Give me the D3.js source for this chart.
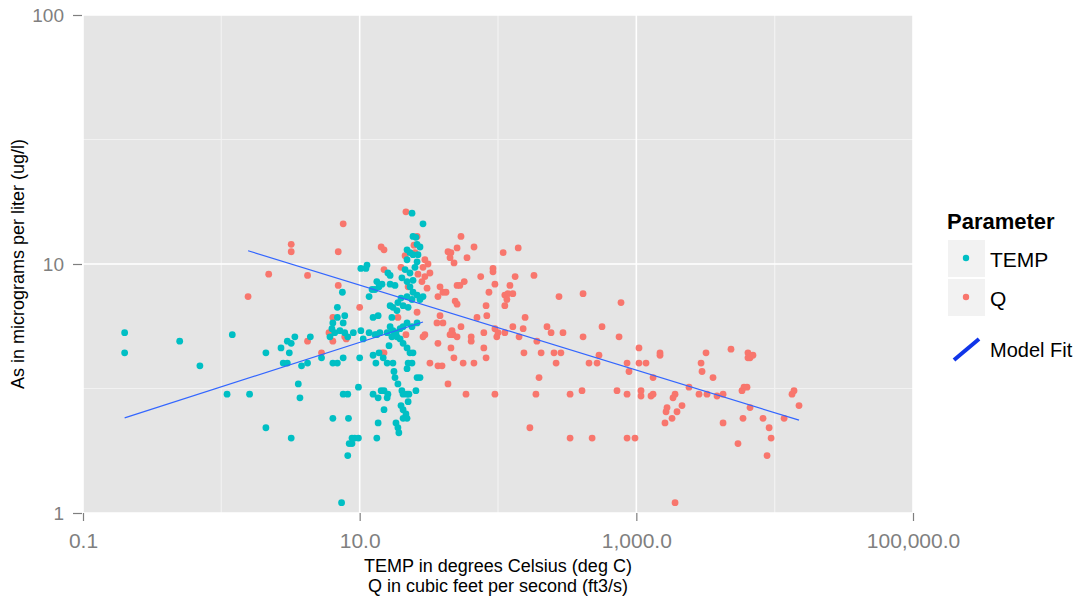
<!DOCTYPE html>
<html>
<head>
<meta charset="utf-8">
<script src="https://cdnjs.cloudflare.com/ajax/libs/d3/7.8.5/d3.min.js"></script>
<style>
body { margin: 0; background: #fff; }
svg { display: block; font-family: Arial, "Liberation Sans", sans-serif; }
</style>
</head>
<body>
<script>
// TEMP (deg C) vs As (ug/l)
var tempX = [0.2, 0.2, 0.5, 0.7, 1.2, 1.1, 1.6, 2.1, 2.1, 3.2, 2.7, 3.0, 3.2, 3.4, 3.1, 2.8, 3.0, 3.8, 4.2, 4.4,
  3.6, 3.7, 5.3, 6.4, 6.9, 7.6, 10, 9.8, 7.6, 8.2, 6.4, 8.3, 8.8, 9.2, 9.8, 8.8, 8.4, 8.2, 7.4, 12.5,
  13.1, 13.8, 14.8, 15.8, 16.3, 17.4, 17.1, 12.5, 13.6, 14.3, 15.0, 16.0, 15.8, 15.0, 13.6, 13.3, 18.3, 18.9, 19.2, 17.7,
  18.0, 18.9, 20.2, 20.6, 22.0, 22.7, 25.5, 19.9, 20.6, 21.6, 22.4, 20.6, 22.0, 18.6, 19.6, 20.6, 22.0, 23.1, 24.3, 22.4,
  23.9, 22.0, 26.0, 27.3, 11.7, 12.9, 9.0, 10.6, 23.9, 28.7, 24.3, 25.5, 26.0, 27.3, 22.0, 23.1, 24.3, 26.4, 22.0, 26.0,
  25.1, 10.2, 11.3, 11.1, 21.3, 23.1, 20.2, 22.0, 24.3, 16.0, 16.6, 13.3, 14.5, 13.8, 12.9, 12.3, 16.6, 18.0, 11.7, 7.5,
  23.1, 24.3, 26.0, 28.7, 27.3, 23.9, 22.0, 22.4, 20.6, 16.6, 17.4, 18.9, 19.9, 18.6, 6.9, 7.8, 6.9, 6.4, 6.3, 6.6,
  7.2, 7.8, 8.2, 10.2, 12.5, 13.6, 14.0, 13.3, 15.8, 17.1, 16.6, 17.4, 18.3, 19.6, 20.6, 22.0, 23.9, 26.0, 6.1, 7.6];
var tempAs = [5.3, 4.4, 4.9, 3.9, 5.2, 3.0, 3.0, 4.4, 2.2, 2.0, 4.6, 4.9, 4.8, 5.1, 4.4, 4.0, 4.0, 3.9, 4.0, 5.1,
  3.3, 2.9, 4.2, 4.0, 4.0, 4.2, 4.2, 3.2, 3.0, 3.0, 2.4, 2.4, 2.0, 2.0, 2.0, 1.9, 1.9, 1.7, 1.1, 4.3,
  4.0, 4.4, 4.2, 4.0, 4.7, 4.0, 5.1, 3.0, 2.9, 3.1, 3.1, 3.0, 2.9, 2.6, 2.3, 2.0, 2.3, 2.2, 2.1, 3.7,
  3.5, 3.3, 3.1, 3.0, 3.0, 3.0, 3.1, 2.7, 2.6, 2.5, 2.8, 2.4, 2.4, 5.1, 5.0, 4.8, 4.6, 4.4, 4.4, 4.0,
  4.0, 3.8, 3.5, 3.5, 5.3, 5.2, 5.3, 5.0, 16.0, 14.5, 12.9, 12.8, 12.0, 11.7, 11.4, 11.1, 10.9, 10.9, 10.4, 10.2,
  9.7, 9.6, 9.9, 9.6, 9.5, 9.2, 8.8, 8.5, 8.6, 9.2, 9.0, 8.5, 8.3, 8.1, 7.9, 7.9, 8.3, 8.2, 7.4, 7.7,
  8.1, 7.7, 7.5, 7.4, 7.2, 7.2, 7.4, 6.7, 6.8, 6.8, 6.7, 7.0, 7.3, 6.5, 6.7, 6.2, 6.1, 5.8, 5.5, 5.3,
  5.4, 5.3, 5.1, 5.4, 6.1, 6.2, 5.3, 5.2, 5.3, 6.1, 5.6, 5.4, 5.3, 5.5, 5.6, 5.8, 5.6, 5.8, 5.1, 5.8];

// Q (ft3/s) vs As (ug/l)
var qX = [1.56, 2.2, 3.2, 3.2, 4.2, 4.2, 5.3, 6.0, 6.4, 6.4, 7.8, 8.0, 7.0, 7.6, 7.0, 10, 14.3, 15.0, 15.0, 18.9,
  14.5, 15.0, 21.6, 19.9, 22.4, 26.0, 24.7, 25.1, 21.3, 29.6, 31.2, 28.7, 26.4, 29.6, 32.2, 28.2, 30.7, 26.0, 21.6, 38.1,
  40, 36.8, 42.1, 38.1, 40, 36.2, 43.5, 29.6, 28.7, 36.8, 32.2, 36.8, 39.4, 43.5, 54, 50.6, 45.7, 45, 48.1, 67.1,
  59.7, 109, 140, 92, 92, 75, 57, 50.6, 53, 95, 133, 182, 122, 112, 118, 128, 116, 112, 86, 49,
  50.6, 82, 83, 54, 46.5, 47.3, 50.6, 45, 70.5, 64, 64, 79, 95, 100, 98, 112, 128, 152, 142, 157,
  191, 226, 242, 276, 412, 565, 412, 295, 775, 750, 45.7, 79, 48, 56, 67, 82, 154, 205, 254, 263,
  285, 455, 520, 537, 857, 885, 58.7, 95, 188, 198, 332, 405, 725, 857, 170, 332, 479, 857, 978, 1045,
  1045, 1175, 1483, 1483, 1321, 1081, 1081, 1277, 1321, 1905, 1841, 1667, 1640, 1611, 1812, 1968, 2138, 1905, 3190, 2937,
  2985, 3584, 2404, 2838, 3243, 3831, 4236, 4236, 4833, 6412, 6637, 6966, 6412, 5803, 6000, 6310, 6637, 5903, 5430, 8238,
  9120, 9425, 8810, 11700, 13350, 13800, 15000];
var qAs = [7.4, 9.1, 11.2, 12.0, 9.0, 4.9, 4.4, 5.3, 4.9, 6.1, 5.1, 5.0, 11.2, 14.5, 8.2, 6.7, 11.7, 11.4, 9.5, 6.1,
  4.4, 4.4, 16.2, 9.7, 8.1, 12.9, 11.9, 11.1, 10.8, 10.4, 10.0, 9.7, 9.1, 8.9, 9.2, 8.5, 8.0, 6.4, 5.2, 8.1,
  7.7, 7.4, 7.7, 6.2, 5.8, 5.8, 11.2, 5.2, 5.1, 4.8, 4.0, 3.9, 3.9, 3.3, 12.9, 11.6, 11.1, 10.6, 10.1, 11.7,
  10.6, 11.1, 11.6, 9.6, 9.3, 8.9, 8.5, 8.2, 8.2, 8.3, 8.9, 9.0, 8.2, 7.5, 7.6, 7.6, 7.2, 6.8, 7.7, 7.1,
  6.9, 6.8, 6.2, 5.6, 5.4, 5.2, 5.1, 5.2, 6.1, 5.1, 4.9, 5.3, 5.5, 5.3, 5.1, 5.3, 5.6, 5.5, 5.1, 6.1,
  4.9, 5.6, 5.3, 7.4, 7.6, 5.6, 5.1, 5.3, 7.0, 5.1, 4.6, 4.6, 4.2, 4.0, 4.0, 4.2, 4.4, 4.4, 4.4, 4.0,
  4.4, 4.0, 4.0, 4.3, 4.0, 3.7, 3.0, 3.0, 3.0, 3.5, 3.0, 3.1, 3.1, 3.0, 2.2, 2.0, 2.0, 2.0, 2.0, 4.6,
  4.0, 4.0, 4.4, 4.3, 3.5, 3.1, 2.95, 2.95, 3.0, 3.0, 2.9, 2.65, 2.55, 2.3, 2.4, 2.55, 2.7, 1.1, 4.4, 4.0,
  3.7, 3.5, 3.2, 3.0, 3.0, 2.95, 3.0, 2.3, 4.55, 4.4, 4.2, 4.3, 4.2, 3.1, 3.2, 3.2, 2.65, 2.4, 1.9, 2.4,
  2.2, 2.0, 1.7, 2.4, 3.0, 3.1, 2.7];

// model fit end points (log-log straight lines)
var tempFitX = [0.2, 28.7], tempFitY = [2.41, 5.85];
var qFitX = [1.56, 15000], qFitY = [11.3, 2.36];

var xTicks = [0.1, 10, 1000, 100000];
var xTickLabels = ["0.1", "10.0", "1,000.0", "100,000.0"];
var xMinor = [1, 100, 10000];
var yTicks = [1, 10, 100];
var yMinor = [Math.sqrt(10), Math.sqrt(1000)];

var tealCol = "#00BFC4", redCol = "#F8766D", fitCol = "#3366FF";

var svg = d3.select("body").append("svg")
            .attr("width", 1081)
            .attr("height", 600);

var x = d3.scaleLog().domain([0.1, 100000]).range([83, 913]);
var y = d3.scaleLog().domain([1, 100]).range([513, 15]);

// panel
svg.append("rect")
   .attr("x", 83).attr("y", 15)
   .attr("width", 830).attr("height", 498)
   .attr("fill", "#E5E5E5");

svg.selectAll("line.vminor").data(xMinor).enter().append("line")
   .attr("x1", d => x(d)).attr("x2", d => x(d))
   .attr("y1", 15).attr("y2", 513)
   .attr("stroke", "#F2F2F2").attr("stroke-width", 1.2);
svg.selectAll("line.hminor").data(yMinor).enter().append("line")
   .attr("y1", d => y(d)).attr("y2", d => y(d))
   .attr("x1", 83).attr("x2", 913)
   .attr("stroke", "#F2F2F2").attr("stroke-width", 1.2);
svg.selectAll("line.vmajor").data(xTicks).enter().append("line")
   .attr("x1", d => x(d)).attr("x2", d => x(d))
   .attr("y1", 15).attr("y2", 513)
   .attr("stroke", "#FFFFFF").attr("stroke-width", 1.6);
svg.selectAll("line.hmajor").data(yTicks).enter().append("line")
   .attr("y1", d => y(d)).attr("y2", d => y(d))
   .attr("x1", 83).attr("x2", 913)
   .attr("stroke", "#FFFFFF").attr("stroke-width", 1.6);

// points
var qPts = d3.zip(qX, qAs);
var tPts = d3.zip(tempX, tempAs);

svg.append("g").selectAll("circle").data(qPts).enter().append("circle")
   .attr("cx", d => x(d[0])).attr("cy", d => y(d[1]))
   .attr("r", 3.4).attr("fill", redCol);
svg.append("g").selectAll("circle").data(tPts).enter().append("circle")
   .attr("cx", d => x(d[0])).attr("cy", d => y(d[1]))
   .attr("r", 3.4).attr("fill", tealCol);

// fits
var line = d3.line().x(d => x(d[0])).y(d => y(d[1]));
svg.append("path").datum(d3.zip(tempFitX, tempFitY))
   .attr("d", line).attr("fill", "none")
   .attr("stroke", fitCol).attr("stroke-width", 1.2);
svg.append("path").datum(d3.zip(qFitX, qFitY))
   .attr("d", line).attr("fill", "none")
   .attr("stroke", fitCol).attr("stroke-width", 1.2);

// axes
var xAxis = svg.append("g")
   .attr("transform", "translate(0,513)")
   .call(d3.axisBottom(x).tickValues(xTicks)
           .tickFormat((d, i) => xTickLabels[i])
           .tickSize(8).tickPadding(12));
xAxis.select(".domain").remove();
xAxis.selectAll("line").attr("stroke", "#7F7F7F").attr("stroke-width", 1.2);
xAxis.selectAll("text").attr("fill", "#7F7F7F")
     .attr("font-size", 21).attr("font-family", "Arial, 'Liberation Sans', sans-serif");

var yAxis = svg.append("g")
   .attr("transform", "translate(82,0)")
   .call(d3.axisLeft(y).tickValues(yTicks)
           .tickFormat(d3.format("d"))
           .tickSize(9).tickPadding(9));
yAxis.select(".domain").remove();
yAxis.selectAll("line").attr("stroke", "#7F7F7F").attr("stroke-width", 1.2);
yAxis.selectAll("text").attr("fill", "#7F7F7F")
     .attr("font-size", 19).attr("font-family", "Arial, 'Liberation Sans', sans-serif");

// axis titles
svg.append("text").attr("x", 498).attr("y", 572)
   .attr("text-anchor", "middle").attr("font-size", 18)
   .text("TEMP in degrees Celsius (deg C)");
svg.append("text").attr("x", 498).attr("y", 592)
   .attr("text-anchor", "middle").attr("font-size", 18)
   .text("Q in cubic feet per second (ft3/s)");
svg.append("text")
   .attr("transform", "translate(24,264) rotate(-90)")
   .attr("text-anchor", "middle").attr("font-size", 18)
   .text("As in micrograms per liter (ug/l)");

// legend
var legend = svg.append("g");
legend.append("text").attr("x", 947).attr("y", 229)
      .attr("font-size", 22).attr("font-weight", "bold")
      .text("Parameter");
var keys = [["TEMP", tealCol], ["Q", redCol]];
keys.forEach(function(k, i) {
    var ky = 240 + i * 39;
    legend.append("rect").attr("x", 948).attr("y", ky)
          .attr("width", 37).attr("height", 37).attr("fill", "#F2F2F2");
    legend.append("circle").attr("cx", 966).attr("cy", ky + 18)
          .attr("r", 3.2).attr("fill", k[1]);
    legend.append("text").attr("x", 990).attr("y", ky + 27)
          .attr("font-size", 21).text(k[0]);
});
legend.append("line")
      .attr("x1", 954).attr("y1", 360).attr("x2", 979).attr("y2", 339)
      .attr("stroke", "#1035E8").attr("stroke-width", 4);
legend.append("text").attr("x", 990).attr("y", 357)
      .attr("font-size", 20).text("Model Fit");
</script>
</body>
</html>
